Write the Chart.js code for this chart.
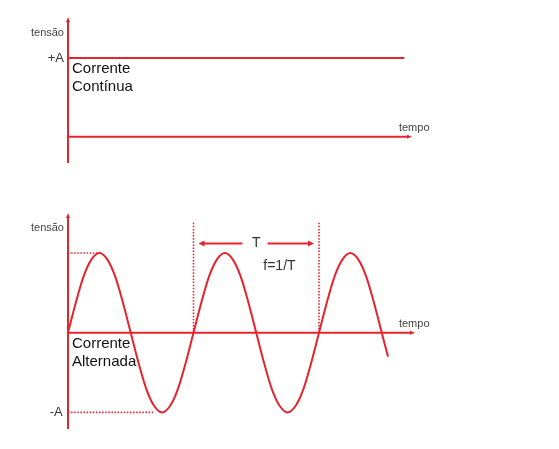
<!DOCTYPE html>
<html lang="pt">
<head>
<meta charset="utf-8">
<title>Corrente contínua e corrente alternada</title>
<script src="https://cdn.jsdelivr.net/npm/chart.js@4.4.1/dist/chart.umd.min.js"></script>
<style>
  html, body { margin: 0; padding: 0; background: #fff; }
  #wrap { position: relative; width: 559px; height: 449px; }
  #wrap canvas { position: absolute; left: 0; }
  #dcChart { top: 0; }
  #acChart { top: 180px; }
</style>
</head>
<body>
<div id="wrap">
  <canvas id="dcChart" width="559" height="180"></canvas>
  <canvas id="acChart" width="559" height="269"></canvas>
</div>
<script>
// Tempo medido em períodos (T = 1), tensão em unidades de A
const dcTime = [0, 2.68];
const dcVoltage = [1, 1];

const acTime = [0, 0.0625, 0.125, 0.1875, 0.25, 0.3125, 0.375, 0.4375,
                0.5, 0.5625, 0.625, 0.6875, 0.75, 0.8125, 0.875, 0.9375,
                1, 1.0625, 1.125, 1.1875, 1.25, 1.3125, 1.375, 1.4375,
                1.5, 1.5625, 1.625, 1.6875, 1.75, 1.8125, 1.875, 1.9375,
                2, 2.0625, 2.125, 2.1875, 2.25, 2.3125, 2.375, 2.4375,
                2.5, 2.55];
const acVoltage = [0, 0.38, 0.71, 0.92, 1, 0.92, 0.71, 0.38,
                   0, -0.38, -0.71, -0.92, -1, -0.92, -0.71, -0.38,
                   0, 0.38, 0.71, 0.92, 1, 0.92, 0.71, 0.38,
                   0, -0.38, -0.71, -0.92, -1, -0.92, -0.71, -0.38,
                   0, 0.38, 0.71, 0.92, 1, 0.92, 0.71, 0.38,
                   0, -0.3];

// linhas pontilhadas de referência
const peakGuideTime = [0, 0.25];     // nível +A
const troughGuideTime = [0, 0.68];   // nível -A
const periodMarks = [1, 2];          // início e fim de um período
const periodMarkTop = 1.38;

// setas do período T
const periodArrowLeft = [1.39, 1.04];
const periodArrowRight = [1.59, 1.96];
const periodArrowLevel = 1.12;

const RED = '#e4252d';
const FONT = "'Liberation Sans', Arial, sans-serif";

function pts(xs, ys) {
    return xs.map((x, i) => ({ x: x, y: ys[i] }));
}

function arrowHead(ctx, x, y, dx, dy, len, half) {
    // ponta triangular apontando na direção (dx, dy)
    const px = -dy, py = dx;
    ctx.beginPath();
    ctx.moveTo(x, y);
    ctx.lineTo(x - dx * len + px * half, y - dy * len + py * half);
    ctx.lineTo(x - dx * len - px * half, y - dy * len - py * half);
    ctx.closePath();
    ctx.fill();
}

// Eixos com setas (tensão vertical, tempo horizontal)
const axesPlugin = {
    id: 'eixos',
    beforeDatasetsDraw(chart) {
        const { ctx, chartArea, scales: { x, y } } = chart;
        const x0 = x.getPixelForValue(0);
        const y0 = y.getPixelForValue(0);
        ctx.save();
        ctx.strokeStyle = RED;
        ctx.fillStyle = RED;
        ctx.lineWidth = 2;

        ctx.beginPath();
        ctx.moveTo(x0, chartArea.bottom);
        ctx.lineTo(x0, chartArea.top + 3);
        ctx.stroke();
        arrowHead(ctx, x0, chartArea.top, 0, -1, 5, 2);

        ctx.beginPath();
        ctx.moveTo(x0, y0);
        ctx.lineTo(chartArea.right - 3, y0);
        ctx.stroke();
        arrowHead(ctx, chartArea.right, y0, 1, 0, 5, 2);
        ctx.restore();
    },
    afterDatasetsDraw(chart, args, opts) {
        const { ctx, scales: { x, y } } = chart;
        ctx.save();

        (opts.arrows || []).forEach(a => {
            const x1 = x.getPixelForValue(a.from);
            const x2 = x.getPixelForValue(a.to);
            const yy = y.getPixelForValue(a.y);
            const dir = x2 > x1 ? 1 : -1;
            ctx.strokeStyle = RED;
            ctx.fillStyle = RED;
            ctx.lineWidth = 2;
            ctx.beginPath();
            ctx.moveTo(x1, yy);
            ctx.lineTo(x2 - dir * 4, yy);
            ctx.stroke();
            arrowHead(ctx, x2, yy, dir, 0, 6, 3);
        });

        (opts.labels || []).forEach(l => {
            ctx.font = l.size + 'px ' + FONT;
            ctx.fillStyle = l.color || '#222';
            ctx.textAlign = l.align || 'left';
            ctx.textBaseline = 'middle';
            const px = x.getPixelForValue(l.x);
            const py = y.getPixelForValue(l.y);
            l.text.split('\n').forEach((line, i) => {
                ctx.fillText(line, px, py + i * 18);
            });
        });
        ctx.restore();
    }
};

const baseOptions = (xMax, yMin, yMax, padding) => ({
    responsive: false,
    animation: false,
    events: [],
    layout: { padding: padding },
    scales: {
        x: { type: 'linear', display: false, min: 0, max: xMax },
        y: { type: 'linear', display: false, min: yMin, max: yMax }
    },
    plugins: {
        legend: { display: false },
        tooltip: { enabled: false }
    },
    elements: { point: { radius: 0 } }
});

// Corrente contínua
const dcOptions = baseOptions(2.741, -0.334, 1.521, { left: 68, right: 147, top: 17, bottom: 17 });
dcOptions.plugins.eixos = {
    labels: [
        { text: 'tensão', x: -0.032, y: 1.32, size: 11, align: 'right', color: '#444' },
        { text: '+A', x: -0.032, y: 1.0, size: 13, align: 'right', color: '#333' },
        { text: 'Corrente\nContínua', x: 0.032, y: 0.86, size: 15, color: '#111' },
        { text: 'tempo', x: 2.637, y: 0.11, size: 11, color: '#444' }
    ]
};

new Chart(document.getElementById('dcChart'), {
    type: 'line',
    data: {
        datasets: [{
            data: pts(dcTime, dcVoltage),
            borderColor: RED,
            borderWidth: 2
        }]
    },
    options: dcOptions,
    plugins: [axesPlugin]
});

// Corrente alternada
const dotted = (data) => ({
    data: data,
    borderColor: RED,
    borderWidth: 1.6,
    borderDash: [1.5, 1.6]
});

const acOptions = baseOptions(2.765, -1.208, 1.502, { left: 68, right: 144, top: 33, bottom: 20 });
acOptions.plugins.eixos = {
    arrows: [
        { from: periodArrowLeft[0], to: periodArrowLeft[1], y: periodArrowLevel },
        { from: periodArrowRight[0], to: periodArrowRight[1], y: periodArrowLevel }
    ],
    labels: [
        { text: 'tensão', x: -0.032, y: 1.31, size: 11, align: 'right', color: '#444' },
        { text: '-A', x: -0.042, y: -1.0, size: 13, align: 'right', color: '#333' },
        { text: 'Corrente\nAlternada', x: 0.032, y: -0.142, size: 15, color: '#111' },
        { text: 'tempo', x: 2.637, y: 0.11, size: 11, color: '#444' },
        { text: 'T', x: 1.5, y: periodArrowLevel, size: 14, align: 'center', color: '#333' },
        { text: 'f=1/T', x: 1.556, y: 0.83, size: 14, color: '#333' }
    ]
};

new Chart(document.getElementById('acChart'), {
    type: 'line',
    data: {
        datasets: [
            {
                data: pts(acTime, acVoltage),
                borderColor: RED,
                borderWidth: 2,
                cubicInterpolationMode: 'monotone'
            },
            dotted(pts(peakGuideTime, [1, 1])),
            dotted(pts(troughGuideTime, [-1, -1])),
            dotted(pts([periodMarks[0], periodMarks[0]], [0, periodMarkTop])),
            dotted(pts([periodMarks[1], periodMarks[1]], [0, periodMarkTop]))
        ]
    },
    options: acOptions,
    plugins: [axesPlugin]
});
</script>
</body>
</html>
